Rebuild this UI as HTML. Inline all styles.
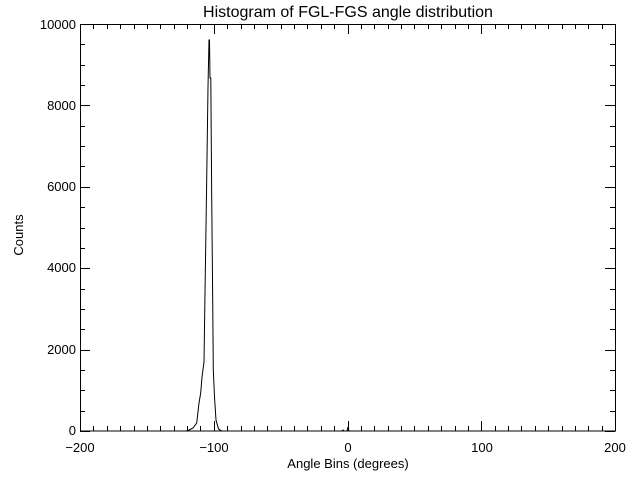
<!DOCTYPE html>
<html><head><meta charset="utf-8"><style>
html,body{margin:0;padding:0;background:#fff;}
svg{display:block;}
text{font-family:"Liberation Sans",sans-serif;fill:#000;}
</style></head><body>
<svg id="s" width="640" height="480" xmlns="http://www.w3.org/2000/svg">
<rect width="640" height="480" fill="#fff"/>
<g id="ax" stroke="#000" stroke-width="1" fill="none" shape-rendering="crispEdges">
<rect x="80.5" y="24.5" width="535" height="406.5"/>
</g>
<text x="348" y="17" font-size="16" text-anchor="middle">Histogram of FGL-FGS angle distribution</text>
<text x="348" y="468" font-size="13" text-anchor="middle">Angle Bins (degrees)</text>
<text transform="translate(23,235) rotate(-90)" font-size="13" text-anchor="middle">Counts</text>
<g font-size="13" text-anchor="middle">
<text x="80" y="452">−200</text>
<text x="214" y="452">−100</text>
<text x="348" y="452">0</text>
<text x="482" y="452">100</text>
<text x="615" y="452">200</text>
</g>
<g font-size="13" text-anchor="end">
<text x="76" y="435">0</text>
<text x="76" y="354">2000</text>
<text x="76" y="272">4000</text>
<text x="76" y="191">6000</text>
<text x="76" y="110">8000</text>
<text x="76" y="29">10000</text>
</g>
<polyline fill="none" stroke="#000" stroke-width="1" points="80,431 186,431 189,430 193,428 196.7,423 199,403 200.7,393 202,377 204,362 205,293 206.7,180 208,87 209,40 209.5,40 210,78 210.8,78 211.7,197 212.7,300 213.3,370 214.5,397 216,420 218.5,429 222,431 342,431 343,430 344,431 347,431 348,427 349,431 615,431"/>
</svg>
<script>
var g=document.getElementById('ax'),ns="http://www.w3.org/2000/svg";
function L(x1,y1,x2,y2){var l=document.createElementNS(ns,'line');l.setAttribute('x1',x1);l.setAttribute('y1',y1);l.setAttribute('x2',x2);l.setAttribute('y2',y2);g.appendChild(l);}
for(var v=-200;v<=200;v+=10){var x=Math.round(80+(v+200)*535/400)+0.5;var len=(v%100==0)?10:5;L(x,431,x,431-len);L(x,24,x,24+len);}
for(var c=0;c<=10000;c+=500){var y=Math.round(431-c*0.0407)+0.5;var len=(c%2000==0)?10:5;L(80,y,80+len,y);L(615,y,615-len,y);}
</script>
</body></html>
